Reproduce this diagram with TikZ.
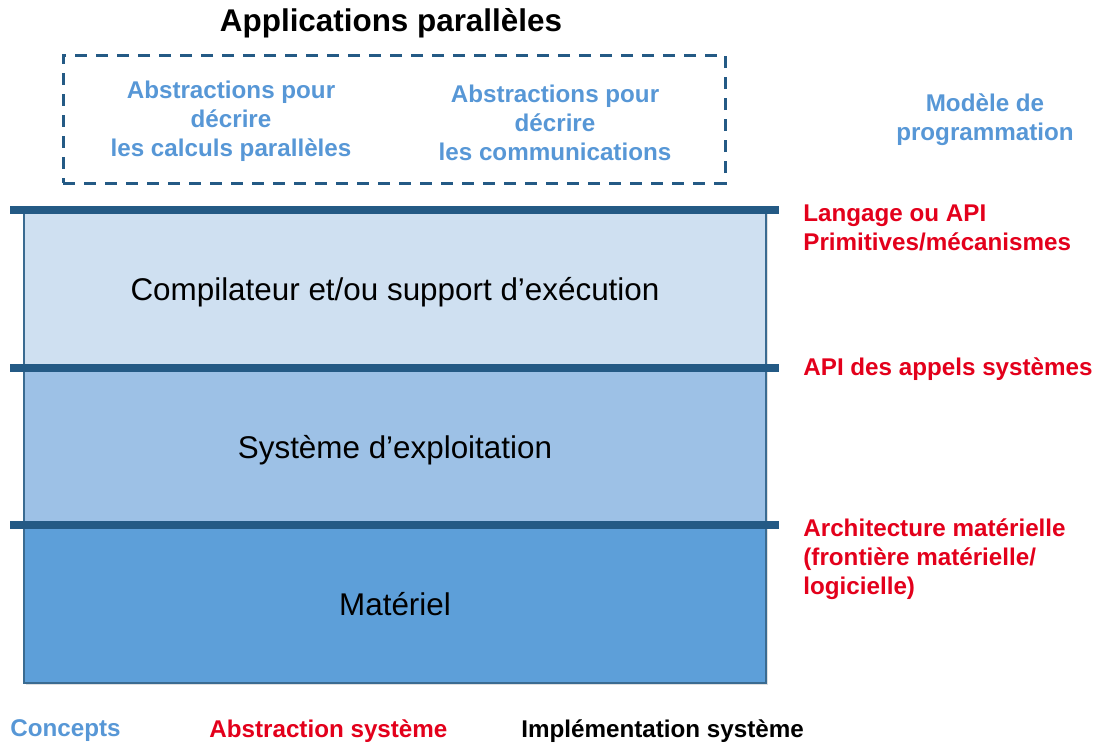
\documentclass[tikz,border=0pt]{standalone}
\usepackage{fontspec}
\setmainfont{Liberation Sans}
\usepackage{xcolor}
\usetikzlibrary{shadows}

% Colours
\definecolor{barblue}{HTML}{245A85}
\definecolor{textblue}{HTML}{5797D6}
\definecolor{textred}{HTML}{E3001B}
\definecolor{layerA}{HTML}{CFE0F1}
\definecolor{layerB}{HTML}{9DC1E6}
\definecolor{layerC}{HTML}{5D9FD9}

\begin{document}
\begin{tikzpicture}[x=0.5pt, y=-0.5pt,
    layer/.style={draw=barblue!90, line width=0.6pt, minimum width=371pt,
        minimum height=79pt, inner sep=0pt, text depth=0pt,
        font=\fontsize{15.7}{19}\selectfont,
        drop shadow={opacity=0.25, shadow xshift=1.2pt, shadow yshift=-1.2pt}},
    bar/.style={barblue, line width=4pt},
    concept/.style={textblue, align=center, font=\fontsize{12.1}{14.5}\selectfont\bfseries},
    iface/.style={textred, align=left, anchor=north west, inner sep=0pt,
        font=\fontsize{12.1}{14.7}\selectfont\bfseries}]
    % Canvas
    \useasboundingbox (0,0) rectangle (1100,745);

    % Title
    \node[font=\fontsize{15.7}{19}\selectfont\bfseries] (title) at (391,23) {Applications parallèles};

    % Dashed box for the programming model
    \node[draw=barblue, line width=1.5pt, dash pattern=on 6pt off 4.5pt,
        minimum width=331pt, minimum height=64pt] (model) at (394,119) {};
    \node[concept] (calc) at (231,121) {Abstractions pour\\décrire\\les calculs parallèles};
    \node[concept] (comm) at (555,123) {Abstractions pour\\décrire\\les communications};
    \node[concept] (prog) at (985,120) {Modèle de\\programmation};

    % Layers
    \node[layer, fill=layerA] (compil) at (395,289) {Compilateur et/ou support d’exécution};
    \node[layer, fill=layerB] (os) at (395,446.5) {Système d’exploitation};
    \node[layer, fill=layerC] (hw) at (395,604) {Matériel};

    % Separating bars
    \foreach \y in {210,368,525}
        \draw[bar] (10,\y) -- (779,\y);

    % Interfaces
    \node[iface] (lang) at (803,204) {Langage ou API\\Primitives/mécanismes};
    \node[iface] (syscall) at (803,357) {API des appels systèmes};
    \node[iface] (archi) at (803,518) {Architecture matérielle\\(frontière matérielle/\\logicielle)};

    % Legend
    \node[concept, anchor=west, inner sep=0pt] (concepts) at (10,731) {Concepts};
    \node[concept, textred, anchor=west, inner sep=0pt] (abstr) at (209,731) {Abstraction système};
    \node[concept, black, anchor=west, inner sep=0pt] (impl) at (521,731) {Implémentation système};
\end{tikzpicture}
\end{document}
